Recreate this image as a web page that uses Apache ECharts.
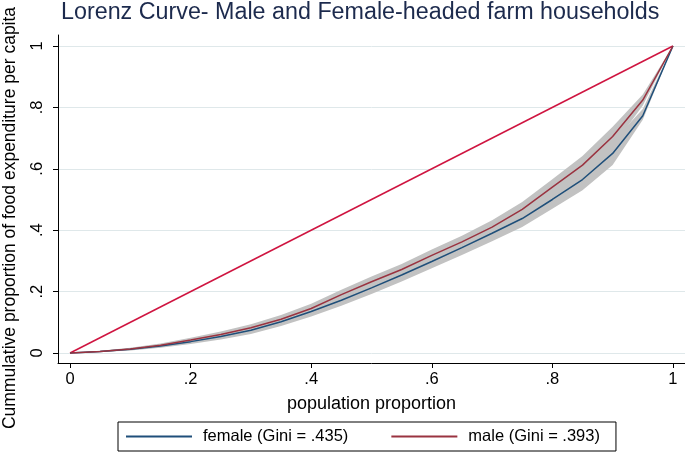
<!DOCTYPE html>
<html><head><meta charset="utf-8">
<script src="https://cdn.jsdelivr.net/npm/echarts@6/dist/echarts.min.js"></script>
<style>html,body{margin:0;padding:0;background:#fff}#c{width:685px;height:456px}</style>
</head><body><div id="c"></div>
<script>
// population proportion (x)
const popShare = [0,0.05,0.1,0.15,0.2,0.25,0.3,0.35,0.4,0.45,0.5,0.55,0.6,0.65,0.7,0.75,0.8,0.85,0.9,0.95,1];
// cumulative share of food expenditure
const female   = [0,.005,.012,.023,.037,.054,.074,.102,.135,.172,.212,.254,.298,.343,.390,.438,.500,.565,.650,.773,1];
const male     = [0,.005,.013,.025,.042,.060,.082,.110,.145,.190,.232,.272,.318,.362,.410,.468,.540,.612,.705,.824,1];
// confidence bands (grey)
const femaleLo = [0,.003,.008,.017,.029,.044,.062,.088,.119,.154,.192,.233,.276,.319,.364,.410,.470,.530,.612,.760,1];
const femaleHi = [0,.007,.016,.029,.045,.064,.086,.116,.151,.190,.232,.275,.320,.367,.416,.466,.530,.600,.688,.795,1];
const maleLo   = [0,.003,.009,.019,.034,.050,.070,.096,.130,.174,.215,.254,.299,.342,.388,.444,.514,.582,.673,.806,1];
const maleHi   = [0,.007,.017,.031,.050,.070,.094,.124,.160,.206,.249,.290,.337,.382,.432,.492,.566,.642,.737,.842,1];
// line of equality
const equality = [[0,0],[1,1]];
// ticks
const tickValues = [0,0.2,0.4,0.6,0.8,1];
const tickLabels = ['0','.2','.4','.6','.8','1'];
const femaleName = 'female (Gini = .435)';
const maleName = 'male (Gini = .393)';

const F = '"Liberation Sans", Arial, Helvetica, sans-serif';
const pairs = (ys) => popShare.map((x,i)=>[x, ys[i]]);
const labelFmt = (v) => { const i = tickValues.findIndex(t => Math.abs(t - v) < 1e-9); return i >= 0 ? tickLabels[i] : ''; };

function band(lo, hi){
  return {
    type:'custom', silent:true, z:1, clip:false,
    data:[[0,0]],
    renderItem(params, api){
      const pts = [];
      for (let i = 0; i < popShare.length; i++) pts.push(api.coord([popShare[i], hi[i]]));
      for (let i = popShare.length - 1; i >= 0; i--) pts.push(api.coord([popShare[i], lo[i]]));
      return {type:'polygon', shape:{points:pts}, style:{fill:'#c2c2c2', stroke:null}};
    }
  };
}

const chart = echarts.init(document.getElementById('c'), null, {renderer:'canvas'});
chart.setOption({
  animation:false,
  backgroundColor:'#ffffff',
  title:{text:'Lorenz Curve- Male and Female-headed farm households', left:61, top:1, padding:0,
    textStyle:{fontFamily:F, fontSize:23.3, fontWeight:'normal', color:'#1c2a4d'}},
  grid:{left:58, right:0, top:35, bottom:93, containLabel:false},
  xAxis:{type:'value', min:-0.02, max:1.02,
    name:'population proportion', nameLocation:'middle', nameGap:32,
    nameTextStyle:{fontFamily:F, fontSize:18, color:'#000'},
    axisLine:{show:true, onZero:false, lineStyle:{color:'#000', width:1}},
    axisTick:{show:true, length:5, customValues:tickValues, lineStyle:{color:'#000', width:1}},
    axisLabel:{customValues:tickValues, formatter:labelFmt, margin:8, fontFamily:F, fontSize:16.5, color:'#000'},
    splitLine:{show:false}},
  yAxis:{type:'value', min:-0.0326, max:1.0358,
    axisLine:{show:true, onZero:false, lineStyle:{color:'#000', width:1}},
    axisTick:{show:true, length:5, customValues:tickValues, lineStyle:{color:'#000', width:1}},
    axisLabel:{customValues:tickValues, formatter:labelFmt, rotate:90, margin:12, fontFamily:F, fontSize:16.5, color:'#000'},
    splitLine:{show:false}},
  graphic:[{type:'text', x:10, y:218, rotation:Math.PI/2,
    style:{text:'Cummulative proportion of food expenditure per capita', fontFamily:F, fontSize:17.5, fill:'#000',
      align:'center', verticalAlign:'middle'}}],
  legend:{left:118, top:422, borderColor:'#000', borderWidth:1, padding:[6,16,6,8],
    itemWidth:66, itemHeight:2, itemGap:43, icon:'rect',
    textStyle:{fontFamily:F, fontSize:16.5, color:'#000', padding:[0,0,0,6]},
    data:[femaleName, maleName]},
  series:[
    {type:'line', name:'grid', data:[], z:0, silent:true,
      markLine:{silent:true, z:0, symbol:'none', label:{show:false}, animation:false,
        lineStyle:{color:'#dfe8ea', width:1, type:'solid'},
        data: tickValues.map(v => ({yAxis:v}))}},
    band(femaleLo, femaleHi),
    band(maleLo, maleHi),
    {type:'line', name:'equality', data:equality, showSymbol:false, z:3,
      lineStyle:{color:'#cf1440', width:1.5}, itemStyle:{color:'#cf1440'}},
    {type:'line', name:femaleName, data:pairs(female), showSymbol:false, z:4,
      lineStyle:{color:'#1f4f7a', width:1.5}, itemStyle:{color:'#1f4f7a'}},
    {type:'line', name:maleName, data:pairs(male), showSymbol:false, z:5,
      lineStyle:{color:'#9a3340', width:1.5}, itemStyle:{color:'#9a3340'}}
  ]
});
</script>
</body></html>
